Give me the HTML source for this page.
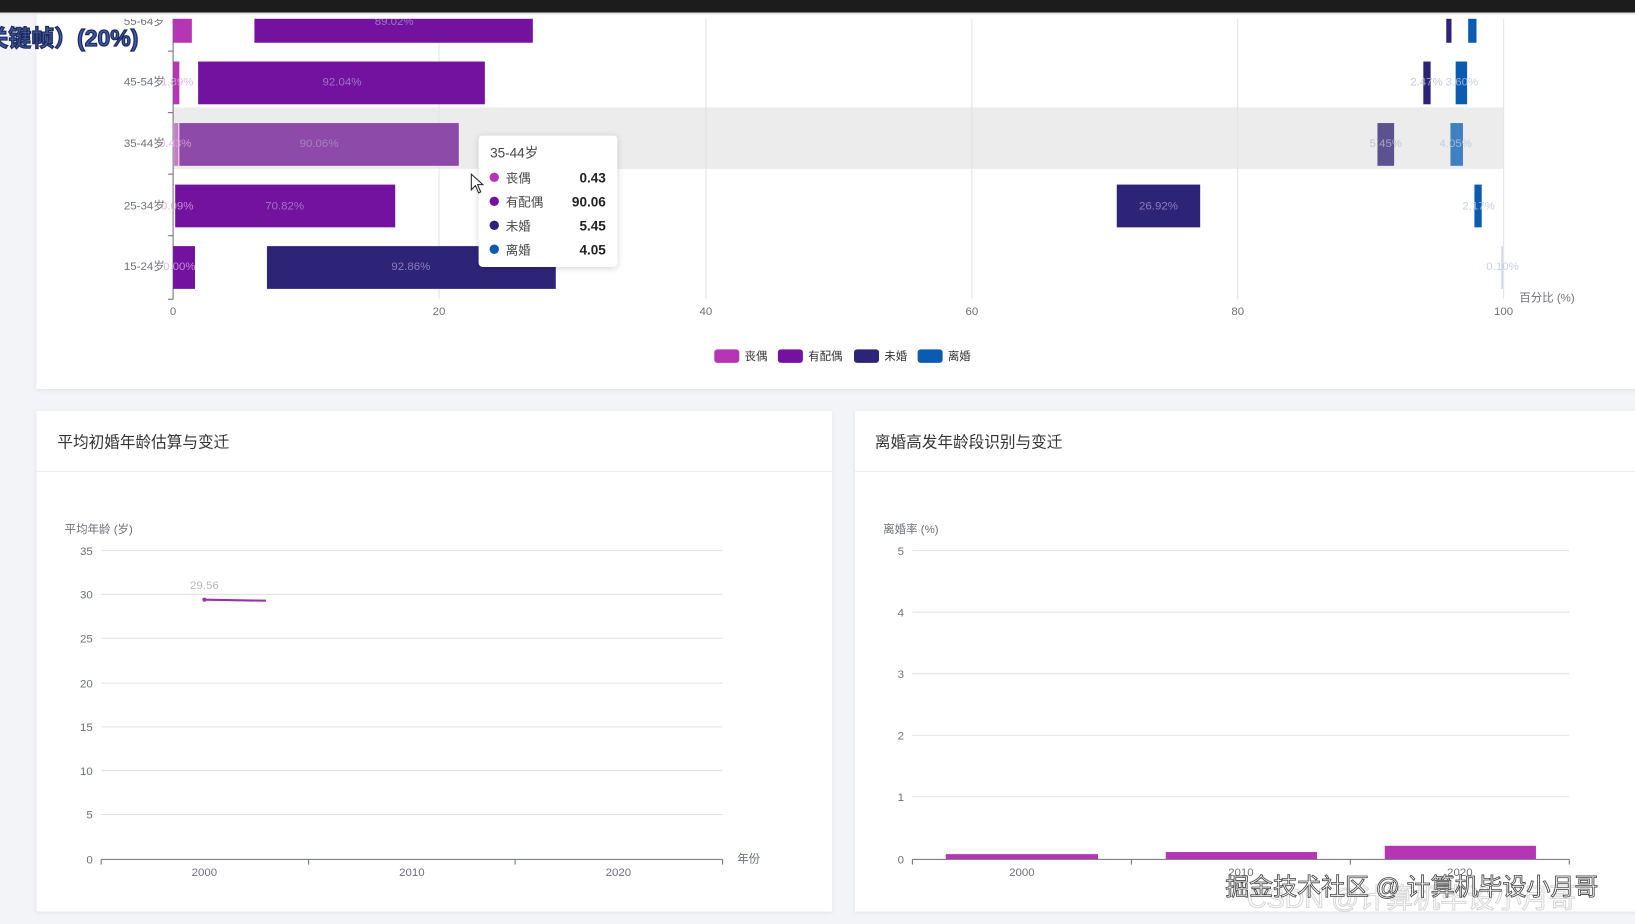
<!DOCTYPE html>
<html><head><meta charset="utf-8"><style>
html,body{margin:0;padding:0;background:#f3f4f7;overflow:hidden}
svg{display:block}
text{font-family:"Liberation Sans","Noto Sans CJK SC",sans-serif}
</style></head><body>
<svg width="1635" height="924" viewBox="0 0 1568 886" preserveAspectRatio="none" xmlns="http://www.w3.org/2000/svg">
<defs>
<filter id="sh" x="-5%" y="-5%" width="110%" height="115%"><feDropShadow dx="0" dy="1" stdDeviation="2" flood-color="#000" flood-opacity="0.08"/></filter>
<filter id="sh2" x="-20%" y="-20%" width="140%" height="140%"><feDropShadow dx="0" dy="1" stdDeviation="3" flood-color="#000" flood-opacity="0.18"/></filter>
</defs>
<rect width="1568" height="886" fill="#f3f4f7"/>
<rect x="35" y="12" width="1540" height="361" fill="#fff" filter="url(#sh)"/>
<rect x="166" y="103" width="1276" height="59" fill="#ececec"/>
<g stroke="#e3e3e3" stroke-width="1">
<line x1="421" y1="18" x2="421" y2="287"/><line x1="677" y1="18" x2="677" y2="287"/>
<line x1="932" y1="18" x2="932" y2="287"/><line x1="1187" y1="18" x2="1187" y2="287"/>
<line x1="1442" y1="18" x2="1442" y2="287"/>
</g>
<g stroke="#6e7079" stroke-width="1">
<line x1="166" y1="18" x2="166" y2="287"/>
<line x1="161" y1="49" x2="166" y2="49"/><line x1="161" y1="108" x2="166" y2="108"/>
<line x1="161" y1="167" x2="166" y2="167"/><line x1="161" y1="226" x2="166" y2="226"/>
<line x1="161" y1="287" x2="166" y2="287"/>
</g>
<g>
<rect x="166" y="0" width="18" height="41" fill="#b535b5"/><rect x="244" y="0" width="267" height="41" fill="#7412a0"/>
<rect x="1387" y="0" width="5" height="41" fill="#2d2478"/><rect x="1408" y="0" width="8" height="41" fill="#0b5cb0"/>
<rect x="166" y="59" width="6" height="41" fill="#b535b5"/><rect x="190" y="59" width="275" height="41" fill="#7412a0"/>
<rect x="1365" y="59" width="7" height="41" fill="#2d2478"/><rect x="1396" y="59" width="11" height="41" fill="#0b5cb0"/>
<rect x="167" y="118" width="4" height="41" fill="#c87ac8"/><rect x="172" y="118" width="268" height="41" fill="#8e4aa8"/>
<rect x="1321" y="118" width="16" height="41" fill="#5d5290"/><rect x="1391" y="118" width="12" height="41" fill="#3f80c0"/>
<rect x="168" y="177" width="211" height="41" fill="#7412a0"/><rect x="1071" y="177" width="80" height="41" fill="#2d2478"/>
<rect x="1414" y="177" width="7" height="41" fill="#0b5cb0"/>
<rect x="166" y="236" width="21" height="41" fill="#7412a0"/><rect x="256" y="236" width="277" height="41" fill="#2d2478"/>
<rect x="1440" y="236" width="1" height="41" fill="#b0c4de"/>
</g>
<g font-size="11" fill="#a88fc8" text-anchor="middle" opacity="0.8">
<text x="378" y="24">89.02%</text><text x="328" y="82">92.04%</text><text x="306" y="141">90.06%</text>
<text x="273" y="201">70.82%</text><text x="394" y="259">92.86%</text><text x="1111" y="201">26.92%</text>
<text x="170" y="82" fill="#d8a8e0">1.89%</text><text x="168" y="141" fill="#d8a8e0">0.43%</text>
<text x="170" y="201" fill="#d8a8e0">0.09%</text><text x="172" y="259" fill="#d8a8e0">0.00%</text>
<text x="1368" y="82" fill="#b8bccc">2.47%</text><text x="1402" y="82" fill="#b8c8dc">3.60%</text>
<text x="1329" y="141" fill="#b8bccc">5.45%</text><text x="1396" y="141" fill="#b8c8dc">4.05%</text>
<text x="1418" y="201" fill="#b8c8dc">2.17%</text><text x="1441" y="259" fill="#b8c8dc">0.10%</text>
</g>
<g font-size="11" fill="#6e7079" text-anchor="end">
<text x="158" y="24">55-64岁</text><text x="158" y="82">45-54岁</text><text x="158" y="141">35-44岁</text>
<text x="158" y="201">25-34岁</text><text x="158" y="259">15-24岁</text>
</g>
<rect x="35" y="12" width="1540" height="6" fill="#fff"/>
<rect x="0" y="0" width="1568" height="12" fill="#1c1c1c"/>
<rect x="0" y="12" width="1568" height="2" fill="#e4e4e4"/>
<g font-size="11" fill="#6e7079" text-anchor="middle">
<text x="166" y="302">0</text><text x="421" y="302">20</text><text x="677" y="302">40</text>
<text x="932" y="302">60</text><text x="1187" y="302">80</text><text x="1442" y="302">100</text>
</g>
<text x="1457" y="289" font-size="11" fill="#6e7079">百分比 (%)</text>
<g font-size="11" fill="#333">
<rect x="685" y="335" width="24" height="13" rx="3" fill="#b535b5"/><text x="714" y="345">丧偶</text>
<rect x="746" y="335" width="24" height="13" rx="3" fill="#7412a0"/><text x="775" y="345">有配偶</text>
<rect x="819" y="335" width="24" height="13" rx="3" fill="#2d2478"/><text x="848" y="345">未婚</text>
<rect x="880" y="335" width="24" height="13" rx="3" fill="#0b5cb0"/><text x="909" y="345">离婚</text>
</g>
<rect x="459" y="130" width="133" height="126" rx="4" fill="#fff" filter="url(#sh2)"/>
<text x="470" y="151" font-size="13" fill="#464646">35-44岁</text>
<g font-size="12" fill="#464646">
<circle cx="474" cy="170" r="4.5" fill="#b535b5"/><text x="485" y="175">丧偶</text><text x="581" y="175" text-anchor="end" font-weight="bold" font-size="13" fill="#222">0.43</text>
<circle cx="474" cy="193" r="4.5" fill="#7412a0"/><text x="485" y="198">有配偶</text><text x="581" y="198" text-anchor="end" font-weight="bold" font-size="13" fill="#222">90.06</text>
<circle cx="474" cy="216" r="4.5" fill="#2d2478"/><text x="485" y="221">未婚</text><text x="581" y="221" text-anchor="end" font-weight="bold" font-size="13" fill="#222">5.45</text>
<circle cx="474" cy="239" r="4.5" fill="#0b5cb0"/><text x="485" y="244">离婚</text><text x="581" y="244" text-anchor="end" font-weight="bold" font-size="13" fill="#222">4.05</text>
</g>
<path d="M452 167 L452 182 L456 178 L459 185 L461 184 L458 177 L463 177 Z" fill="#fff" stroke="#222" stroke-width="1"/>
<text x="-14" y="44" font-size="22" font-weight="bold" fill="#3f5aa8" stroke="#1d2a5a" stroke-width="1.2">关键帧）(20%)</text>
<rect x="35" y="394" width="763" height="480" fill="#fff" filter="url(#sh)"/>
<text x="55" y="429" font-size="15" fill="#333">平均初婚年龄估算与变迁</text>
<line x1="35" y1="452" x2="798" y2="452" stroke="#eee"/>
<text x="62" y="511" font-size="11" fill="#6e7079">平均年龄 (岁)</text>
<g stroke="#e3e3e3"><line x1="97" y1="528" x2="693" y2="528"/><line x1="97" y1="570" x2="693" y2="570"/><line x1="97" y1="612" x2="693" y2="612"/><line x1="97" y1="655" x2="693" y2="655"/><line x1="97" y1="697" x2="693" y2="697"/><line x1="97" y1="739" x2="693" y2="739"/><line x1="97" y1="781" x2="693" y2="781"/></g>
<g stroke="#6e7079"><line x1="97" y1="824" x2="693" y2="824"/><line x1="97" y1="824" x2="97" y2="829"/><line x1="296" y1="824" x2="296" y2="829"/><line x1="494" y1="824" x2="494" y2="829"/><line x1="693" y1="824" x2="693" y2="829"/></g>
<g font-size="11" fill="#6e7079" text-anchor="end"><text x="89" y="532">35</text><text x="89" y="574">30</text><text x="89" y="616">25</text><text x="89" y="659">20</text><text x="89" y="701">15</text><text x="89" y="743">10</text><text x="89" y="785">5</text><text x="89" y="828">0</text></g>
<g font-size="11" fill="#6e7079" text-anchor="middle"><text x="196" y="840">2000</text><text x="395" y="840">2010</text><text x="593" y="840">2020</text></g>
<text x="707" y="827" font-size="11" fill="#6e7079">年份</text>
<line x1="196" y1="575" x2="255" y2="576" stroke="#9b30a8" stroke-width="2"/><circle cx="196" cy="575" r="2" fill="#9b30a8"/>
<text x="196" y="565" font-size="11" fill="#b8b8b8" text-anchor="middle">29.56</text>
<rect x="820" y="394" width="760" height="480" fill="#fff" filter="url(#sh)"/>
<text x="839" y="429" font-size="15" fill="#333">离婚高发年龄段识别与变迁</text>
<line x1="820" y1="452" x2="1568" y2="452" stroke="#eee"/>
<text x="847" y="511" font-size="11" fill="#6e7079">离婚率 (%)</text>
<g stroke="#e3e3e3"><line x1="875" y1="528" x2="1505" y2="528"/><line x1="875" y1="587" x2="1505" y2="587"/><line x1="875" y1="646" x2="1505" y2="646"/><line x1="875" y1="705" x2="1505" y2="705"/><line x1="875" y1="764" x2="1505" y2="764"/></g>
<rect x="907" y="819" width="146" height="5" fill="#b535b5"/><rect x="1118" y="817" width="145" height="7" fill="#b535b5"/><rect x="1328" y="811" width="145" height="13" fill="#b535b5"/>
<g stroke="#6e7079"><line x1="875" y1="824" x2="1505" y2="824"/><line x1="875" y1="824" x2="875" y2="829"/><line x1="1085" y1="824" x2="1085" y2="829"/><line x1="1295" y1="824" x2="1295" y2="829"/><line x1="1505" y1="824" x2="1505" y2="829"/></g>
<g font-size="11" fill="#6e7079" text-anchor="end"><text x="867" y="532">5</text><text x="867" y="591">4</text><text x="867" y="650">3</text><text x="867" y="709">2</text><text x="867" y="768">1</text><text x="867" y="828">0</text></g>
<g font-size="11" fill="#6e7079" text-anchor="middle"><text x="980" y="840">2000</text><text x="1190" y="840">2010</text><text x="1400" y="840">2020</text></g>
<text x="1196" y="870" font-size="26" fill="none" stroke="#d8d8d8" stroke-width="1">CSDN @计算机毕设小月哥</text>
<text x="1175" y="858" font-size="23" fill="#fff" stroke="#444" stroke-width="0.8">掘金技术社区 @ 计算机毕设小月哥</text>
</svg>
</body></html>
